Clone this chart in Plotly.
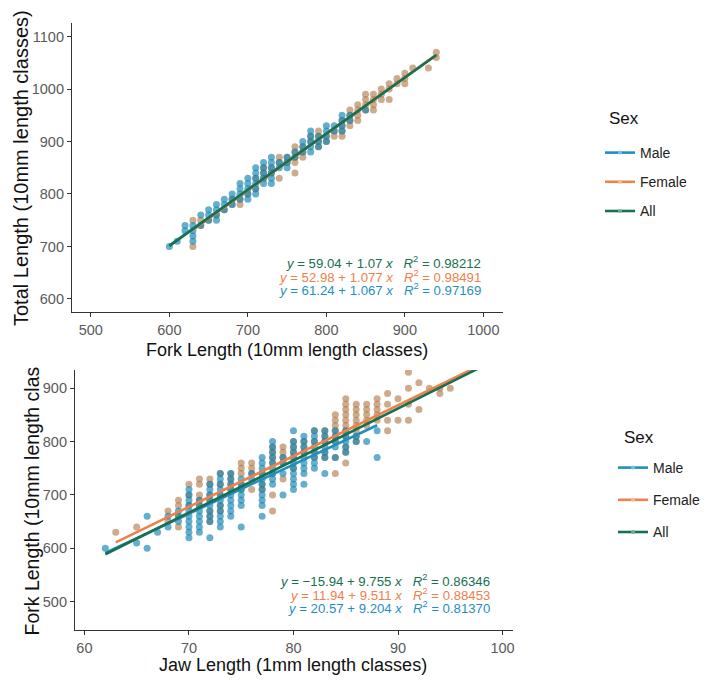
import plotly.graph_objects as go

# ---------------- DATA ----------------
# Top panel: Fork length (x) vs Total length (y), 10 mm classes
top_male_x = [600, 610, 620, 630, 640, 650, 660, 670, 680, 690, 700, 710, 720, 730, 740, 750,
              760, 770, 780, 790, 800, 810, 820, 830, 850]
top_male_y = [[700], [710], [740, 730], [740, 730, 720, 710], [760, 740], [770, 760, 750],
              [780, 770, 760, 750], [790, 780, 770], [800, 790, 780], [820, 810, 800, 790],
              [830, 820, 810, 800, 790], [850, 840, 830, 820, 810, 800], [860, 850, 840, 830, 820],
              [870, 860, 850, 840, 830, 820], [860, 850], [870, 860, 850], [880, 870],
              [900, 890, 880], [920, 910, 900, 890, 880], [910, 900, 890], [930, 920, 910, 900],
              [930, 920], [950, 940, 930, 920], [950, 940], [960]]
top_female_x = [630, 640, 650, 660, 670, 680, 690, 700, 710, 720, 730, 740, 750, 760, 770, 780,
                790, 800, 810, 820, 830, 840, 850, 860, 870, 880, 890, 900, 910, 930, 940]
top_female_y = [[750, 700], [750, 740], [750], [760], [770], [790, 780], [790, 780], [800],
                [830, 810], [850, 840, 830], [850, 840], [870, 860, 830], [870, 860],
                [890, 880, 870, 860, 840], [890, 880, 870], [910, 900], [920, 910, 900, 890],
                [910, 900], [920, 910], [940, 930, 920, 910], [960, 950, 940, 930],
                [970, 960, 950, 940], [990, 980, 970, 960], [990, 980, 970, 960],
                [1000, 990, 980], [1010, 1000, 980], [1020, 1010], [1030, 1020, 1010],
                [1040], [1040], [1070, 1060]]

# Bottom panel: Jaw length (x, 1 mm classes) vs Fork length (y, 10 mm classes)
bot_male_x = [62, 65, 66, 67, 68, 69, 70, 71, 72, 73, 74, 75, 76, 77, 78, 79, 80, 81, 82, 83,
              84, 85, 86, 87, 88]
bot_male_y = [[600], [610], [660, 600], [630], [660, 640], [670, 660, 650],
              [710, 700, 690, 680, 670, 660, 650, 640, 630, 620],
              [690, 680, 670, 660, 650, 640, 630],
              [720, 710, 700, 690, 680, 670, 660, 650, 620],
              [740, 730, 720, 710, 700, 690, 680, 670, 660, 650, 640],
              [740, 730, 720, 710, 700, 690, 680, 670, 660],
              [730, 720, 710, 700, 690, 680, 640], [740, 730],
              [770, 760, 750, 740, 730, 720, 710, 700, 690, 680, 660],
              [800, 790, 780, 770, 760, 750, 740, 730, 720], [770, 760, 740, 700],
              [820, 800, 790, 780, 770, 760, 750, 740, 730, 720, 710],
              [810, 800, 790, 780, 770, 760, 750, 740, 720],
              [820, 810, 800, 790, 780, 770, 760, 750],
              [820, 810, 800, 790, 780, 770, 740], [820, 810, 800, 790, 770],
              [820, 810, 800, 790, 780], [810, 800], [800], [820, 770]]
bot_female_x = [63, 65, 68, 69, 70, 71, 72, 73, 74, 75, 76, 77, 78, 79, 80, 81, 82, 83, 84, 85,
                86, 87, 88, 89, 90, 91, 92, 93, 94, 95, 96, 97, 99]
bot_female_y = [[630], [640], [670, 650], [690, 680, 660, 640], [720, 700, 680],
                [730, 720, 700, 690, 680], [730, 720, 700, 690, 670, 660, 650],
                [740, 720, 700, 680, 670], [740, 730, 720, 710], [760, 750, 740, 720, 710],
                [760, 750, 740, 710], [740, 720, 710], [790, 780, 770, 760, 740, 700, 670],
                [790, 780, 770, 760, 730], [800, 790, 780, 770, 750], [800, 790, 780],
                [820, 800, 780, 770], [820, 810, 800, 780, 770],
                [850, 840, 830, 820, 810, 800, 770, 740],
                [880, 870, 860, 850, 840, 830, 820, 810, 790, 780, 760],
                [870, 860, 850, 840, 830, 820, 810, 800], [870, 860, 850, 840, 830],
                [880, 870, 860, 850, 840], [890, 870, 840, 820], [880, 840],
                [930, 900, 870, 840], [910, 860], [900], [900, 890], [900], [950], [960, 940],
                [960]]

# Fitted coefficients (intercept, slope) and R^2 per group: Male, Female, All
groups = ["Male", "Female", "All"]
top_intercept = [61.24, 52.98, 59.04]
top_slope = [1.067, 1.077, 1.07]
top_r2 = ["0.97169", "0.98491", "0.98212"]
bot_intercept = [20.57, 11.94, -15.94]
bot_slope = [9.204, 9.511, 9.755]
bot_r2 = ["0.81370", "0.88453", "0.86346"]

top_xticks = [500, 600, 700, 800, 900, 1000]
top_yticks = [600, 700, 800, 900, 1000, 1100]
bot_xticks = [60, 70, 80, 90, 100]
bot_yticks = [500, 600, 700, 800, 900]

# ---------------- STYLE ----------------
W, H = 722, 680
line_col = {"Male": "#1f8fc1", "Female": "#f0804c", "All": "#17704f"}
leg_mark = {"Male": "#7cbfd8", "Female": "#f6b89a", "All": "#7aa898"}
pt_col = {"Male": "rgba(22,132,178,0.66)", "Female": "rgba(176,120,70,0.62)"}
FONT = "Liberation Sans, Arial, sans-serif"


def flat(xs, ys):
    fx, fy = [], []
    for x, col in zip(xs, ys):
        for y in col:
            fx.append(x)
            fy.append(y)
    return fx, fy


def px(v):  # horizontal pixel -> paper
    return v / W


def py(v):  # vertical pixel (from top) -> paper
    return 1 - v / H


fig = go.Figure()

panels = [
    dict(xa="x", ya="y", leg="legend", male=(top_male_x, top_male_y), female=(top_female_x, top_female_y),
         a=top_intercept, b=top_slope, r2=top_r2),
    dict(xa="x2", ya="y2", leg="legend2", male=(bot_male_x, bot_male_y), female=(bot_female_x, bot_female_y),
         a=bot_intercept, b=bot_slope, r2=bot_r2),
]

for p in panels:
    mx, my = flat(*p["male"])
    fx, fy = flat(*p["female"])
    fig.add_trace(go.Scatter(x=fx, y=fy, mode="markers", xaxis=p["xa"], yaxis=p["ya"],
                             marker=dict(size=7, color=pt_col["Female"], line=dict(width=0)),
                             showlegend=False, hoverinfo="skip"))
    fig.add_trace(go.Scatter(x=mx, y=my, mode="markers", xaxis=p["xa"], yaxis=p["ya"],
                             marker=dict(size=7, color=pt_col["Male"], line=dict(width=0)),
                             showlegend=False, hoverinfo="skip"))
    data_x = {"Male": mx, "Female": fx, "All": mx + fx}
    for i, g in enumerate(groups):
        x0, x1 = min(data_x[g]), max(data_x[g])
        fig.add_trace(go.Scatter(x=[x0, x1], y=[p["a"][i] + p["b"][i] * x0, p["a"][i] + p["b"][i] * x1],
                                 mode="lines", xaxis=p["xa"], yaxis=p["ya"],
                                 line=dict(color=line_col[g], width=2.6),
                                 showlegend=False, hoverinfo="skip"))
    for g in groups:
        fig.add_trace(go.Scatter(x=[None], y=[None], mode="lines+markers", name=g,
                                 xaxis=p["xa"], yaxis=p["ya"], legend=p["leg"], legendgroup=p["leg"] + g,
                                 line=dict(color=line_col[g], width=2.6),
                                 marker=dict(color=leg_mark[g], size=4)))

axis_common = dict(showgrid=False, zeroline=False, showline=True, linecolor="#333333", linewidth=1.2,
                   ticks="outside", ticklen=4, tickwidth=1.1, tickcolor="#333333", automargin=False,
                   tickfont=dict(family=FONT, size=14.5, color="#5a5a5a"))

leg_common = dict(xanchor="left", yanchor="top", bgcolor="rgba(0,0,0,0)", itemwidth=30,
                  font=dict(family=FONT, size=14, color="#222222"))

fig.update_layout(
    width=W, height=H, margin=dict(l=0, r=0, t=0, b=0, autoexpand=False),
    paper_bgcolor="white", plot_bgcolor="white",
    font=dict(family=FONT, color="#222222"),
    xaxis=dict(domain=[px(72), px(503)], range=[476, 1025], tickvals=top_xticks, anchor="y", **axis_common),
    yaxis=dict(domain=[py(312), py(23)], range=[575, 1126], tickvals=top_yticks, anchor="x", **axis_common),
    xaxis2=dict(domain=[px(75), px(513)], range=[59.1, 101], tickvals=bot_xticks, anchor="y2", **axis_common),
    yaxis2=dict(domain=[py(630), py(370)], range=[447, 934], tickvals=bot_yticks, anchor="x2", **axis_common),
    legend=dict(x=px(600), y=py(137), tracegroupgap=8, **leg_common),
    legend2=dict(x=px(613), y=py(452), tracegroupgap=11, **leg_common),
)

# legend titles
for txt, xx, yy in [("Sex", 607, 118), ("Sex", 622, 437)]:
    fig.add_annotation(text=txt, x=px(xx), y=py(yy), xref="paper", yref="paper", xanchor="left",
                       yanchor="middle", showarrow=False, font=dict(family=FONT, size=17, color="#111111"))

# axis titles
ann = [
    dict(text="Fork Length (10mm length classes)", x=px(287), y=py(350), textangle=0, size=18),
    dict(text="Total Length (10mm length classes)", x=px(21), y=py(168), textangle=-90, size=20),
    dict(text="Jaw Length (1mm length classes)", x=px(293), y=py(665), textangle=0, size=18),
]
for a in ann:
    fig.add_annotation(text=a["text"], x=a["x"], y=a["y"], xref="paper", yref="paper",
                       xanchor="center", yanchor="middle", showarrow=False, textangle=a["textangle"],
                       font=dict(family=FONT, size=a["size"], color="#111111"))
fig.add_annotation(text="Fork Length (10mm length clas", x=px(31), y=py(638), xref="paper", yref="paper",
                   xanchor="center", yanchor="bottom", showarrow=False, textangle=-90,
                   font=dict(family=FONT, size=19.5, color="#111111"))


def eq_text(a, b, r2):
    sign = "\u2212" if a < 0 else ""
    return (f"<i>y</i> = {sign}{abs(a):g} + {b:g} <i>x</i>\u00a0\u00a0\u00a0"
            f"<i>R</i><sup>2</sup> = {r2}")


eq_pos = [
    (px(483), [py(262), py(276), py(289)], panels[0], 13.2),
    (px(492), [py(580), py(594), py(607)], panels[1], 13.2),
]
order = [2, 1, 0]  # All, Female, Male (top to bottom)
for xr, ys, p, fs in eq_pos:
    for row, gi in enumerate(order):
        g = groups[gi]
        fig.add_annotation(text=eq_text(p["a"][gi], p["b"][gi], p["r2"][gi]), x=xr, y=ys[row],
                           xref="paper", yref="paper", xanchor="right", yanchor="middle",
                           showarrow=False, font=dict(family=FONT, size=fs, color=line_col[g]))

fig.write_html("out.html", config={"displayModeBar": False},
               post_script="document.body.style.margin='0';document.body.style.padding='0';")
